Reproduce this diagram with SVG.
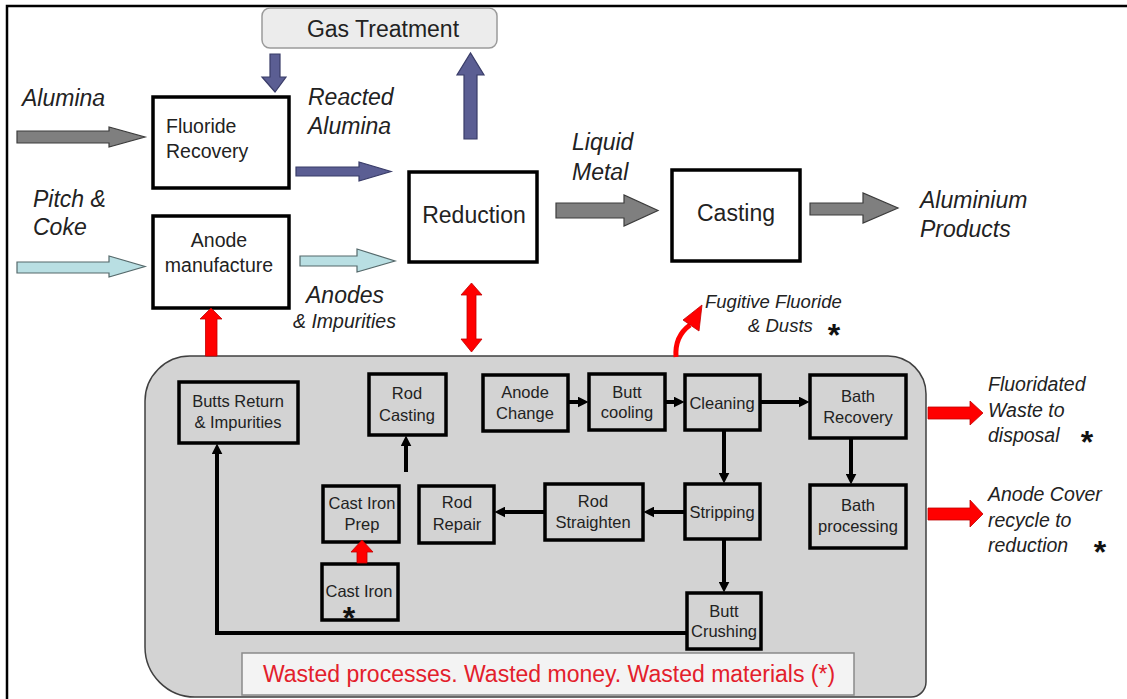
<svg xmlns="http://www.w3.org/2000/svg" width="1127" height="699" viewBox="0 0 1127 699">
<style>
.lbl{font-family:"Liberation Sans",Arial,sans-serif;font-style:italic;fill:#222;}
.big{font-size:23px;}
.mid{font-size:19.5px;}
.sm{font-size:18.5px;}
.bx{font-family:"Liberation Sans",Arial,sans-serif;font-size:19.5px;fill:#222;}
.bx23{font-family:"Liberation Sans",Arial,sans-serif;font-size:23px;fill:#222;text-anchor:middle;}
.ib{font-family:"Liberation Sans",Arial,sans-serif;font-size:16.5px;fill:#222;text-anchor:middle;}
.star{font-family:"Liberation Sans",Arial,sans-serif;font-size:32px;font-weight:bold;fill:#111;text-anchor:middle;}
.top{fill:#fff;stroke:#000;stroke-width:3.5;}
.inner{fill:#d3d3d3;stroke:#000;stroke-width:3.5;}
.gray{fill:#7f7f7f;stroke:#3c3c3c;stroke-width:1.2;}
.blue{fill:#5b5e93;stroke:#393c68;stroke-width:1.2;}
.cyan{fill:#b9dfe3;stroke:#55696b;stroke-width:1.2;}
.red{fill:#ff0000;stroke:#c00000;stroke-width:0.8;}
.con{fill:none;stroke:#000;stroke-width:4;marker-end:url(#ah);}
</style>
<defs>
<marker id="ah" viewBox="0 0 10 10" refX="4" refY="5" markerWidth="11" markerHeight="11" markerUnits="userSpaceOnUse" orient="auto">
<path d="M0,0 L10,5 L0,10 z" fill="#000"/>
</marker>
</defs>
<rect x="0" y="0" width="1127" height="699" fill="#fff"/>
<rect x="7" y="6" width="1140" height="720" fill="#fff" stroke="#000" stroke-width="2.5"/>

<g id="waste-area">
<path d="M190,356 H888 A38,38 0 0 1 926,394 V682 A15,15 0 0 1 911,697 H195 A50,50 0 0 1 145,647 V401 A45,45 0 0 1 190,356 Z" fill="#d3d3d3" stroke="#404040" stroke-width="1.5"/>
</g>

<g id="gas-treatment">
<rect x="262" y="8" width="235" height="40" rx="8" fill="#ececec" stroke="#9a9a9a" stroke-width="1.5"/>
<text x="383" y="37" class="bx23">Gas Treatment</text>
</g>

<g id="fluoride-recovery">
<rect x="153" y="97" width="136" height="91" class="top"/>
<text x="166" y="133" class="bx">Fluoride</text>
<text x="166" y="158" class="bx">Recovery</text>
</g>

<g id="anode-manufacture">
<rect x="153" y="216" width="136" height="92" class="top"/>
<text x="219" y="247" class="bx" text-anchor="middle">Anode</text>
<text x="219" y="272" class="bx" text-anchor="middle">manufacture</text>
</g>

<g id="reduction">
<rect x="409" y="172" width="128" height="90" class="top"/>
<text x="474" y="223" class="bx23">Reduction</text>
</g>

<g id="casting">
<rect x="672" y="170" width="128" height="91" class="top"/>
<text x="736" y="221" class="bx23">Casting</text>
</g>

<g id="labels">
<text x="22" y="106" class="lbl big">Alumina</text>
<text x="33" y="207" class="lbl big">Pitch &amp;</text>
<text x="33" y="235" class="lbl big">Coke</text>
<text x="308" y="105" class="lbl big">Reacted</text>
<text x="308" y="134" class="lbl big">Alumina</text>
<text x="306" y="303" class="lbl big">Anodes</text>
<text x="293" y="328" class="lbl mid">&amp; Impurities</text>
<text x="572" y="150" class="lbl big">Liquid</text>
<text x="572" y="180" class="lbl big">Metal</text>
<text x="920" y="208" class="lbl big">Aluminium</text>
<text x="920" y="237" class="lbl big">Products</text>
<text x="705" y="308" class="lbl sm">Fugitive Fluoride</text>
<text x="748" y="332" class="lbl sm">&amp; Dusts</text>
<text x="834" y="346" class="star">*</text>
<text x="988" y="391" class="lbl mid">Fluoridated</text>
<text x="988" y="417" class="lbl mid">Waste to</text>
<text x="988" y="442" class="lbl mid">disposal</text>
<text x="1087" y="453" class="star">*</text>
<text x="988" y="501" class="lbl mid">Anode Cover</text>
<text x="988" y="527" class="lbl mid">recycle to</text>
<text x="988" y="552" class="lbl mid">reduction</text>
<text x="1100" y="563" class="star">*</text>
</g>

<g id="butts-return">
<rect x="179" y="382" width="119" height="61" class="inner"/>
<text x="238" y="407" class="ib">Butts Return</text>
<text x="238" y="428" class="ib">&amp; Impurities</text>
</g>
<g id="rod-casting">
<rect x="369" y="374" width="77" height="61" class="inner"/>
<text x="407" y="399" class="ib">Rod</text>
<text x="407" y="421" class="ib">Casting</text>
</g>
<g id="anode-change">
<rect x="483" y="375" width="85" height="56" class="inner"/>
<text x="525" y="398" class="ib">Anode</text>
<text x="525" y="419" class="ib">Change</text>
</g>
<g id="butt-cooling">
<rect x="589" y="374" width="76" height="56" class="inner"/>
<text x="627" y="398" class="ib">Butt</text>
<text x="627" y="418" class="ib">cooling</text>
</g>
<g id="cleaning">
<rect x="685" y="375" width="75" height="55" class="inner"/>
<text x="722" y="409" class="ib">Cleaning</text>
</g>
<g id="bath-recovery">
<rect x="810" y="375" width="96" height="63" class="inner"/>
<text x="858" y="402" class="ib">Bath</text>
<text x="858" y="423" class="ib">Recovery</text>
</g>
<g id="stripping">
<rect x="685" y="484" width="75" height="55" class="inner"/>
<text x="722" y="518" class="ib">Stripping</text>
</g>
<g id="bath-processing">
<rect x="810" y="485" width="96" height="63" class="inner"/>
<text x="858" y="511" class="ib">Bath</text>
<text x="858" y="532" class="ib">processing</text>
</g>
<g id="rod-straighten">
<rect x="545" y="484" width="98" height="56" class="inner"/>
<text x="593" y="507" class="ib">Rod</text>
<text x="593" y="528" class="ib">Straighten</text>
</g>
<g id="rod-repair">
<rect x="419" y="486" width="75" height="57" class="inner"/>
<text x="457" y="508" class="ib">Rod</text>
<text x="457" y="530" class="ib">Repair</text>
</g>
<g id="cast-iron-prep">
<rect x="323" y="486" width="76" height="56" class="inner"/>
<text x="362" y="509" class="ib">Cast Iron</text>
<text x="362" y="530" class="ib">Prep</text>
</g>
<g id="cast-iron">
<rect x="322" y="564" width="76" height="56" class="inner"/>
<text x="359" y="597" class="ib">Cast Iron</text>
<text x="349" y="629" class="star" font-size="28">*</text>
</g>
<g id="butt-crushing">
<rect x="687" y="593" width="74" height="56" class="inner"/>
<text x="724" y="617" class="ib">Butt</text>
<text x="724" y="637" class="ib">Crushing</text>
</g>

<g id="message">
<rect x="242" y="653" width="612" height="42" fill="#f3f3f3" stroke="#8a8a8a" stroke-width="1.5"/>
<text x="549" y="682" font-family="'Liberation Sans',Arial,sans-serif" font-size="23" fill="#e3202b" text-anchor="middle">Wasted processes. Wasted money. Wasted materials (*)</text>
</g>

<g id="connectors">
<polygon class="gray" points="17,131 109,131 109,127 145,137 109,147 109,143 17,143"/>
<polygon class="cyan" points="17,262 109,262 109,256 145,266.5 109,277 109,273 17,273"/>
<polygon class="blue" points="296,167 359,167 359,162 391,171.5 359,181 359,176 296,176"/>
<polygon class="cyan" points="300,256 357,256 357,249 395,261 357,272 357,266 300,266"/>
<polygon class="blue" points="270,54 280,54 280,77 286,77 275,92 262,77 270,77"/>
<polygon class="blue" points="464,139 477,139 477,75 484,75 470.5,53 457,75 464,75"/>
<polygon class="gray" points="556,203 624,203 624,195 658,210.5 624,226 624,218 556,218"/>
<polygon class="gray" points="810,203 863,203 863,193 898,208 863,223 863,215 810,215"/>
<polygon class="red" points="471.5,283 482,295 476,295 476,339 482,339 471.5,352 461,339 467,339 467,295 461,295"/>
<polygon class="red" points="205.5,356 217,356 217,319 222,319 211,308 200,319 205.5,319"/>
<polygon class="red" points="928,407 970,407 970,401 983,413 970,425 970,419 928,419"/>
<polygon class="red" points="928,508 970,508 970,500 983,514 970,527 970,520 928,520"/>
<polygon class="red" points="357,563 367,563 367,552 373,552 362,540 351,552 357,552"/>
<path d="M676,357 C675,343 679,333 690,325" fill="none" stroke="#ff0000" stroke-width="5"/>
<polygon class="red" points="683,320 702,305 699,331"/>
<line x1="568" y1="402" x2="582" y2="402" class="con"/>
<line x1="665" y1="402" x2="678" y2="402" class="con"/>
<line x1="760" y1="402" x2="803" y2="402" class="con"/>
<line x1="724" y1="430" x2="724" y2="477" class="con"/>
<line x1="851" y1="438" x2="851" y2="478" class="con"/>
<line x1="685" y1="512" x2="650" y2="512" class="con"/>
<line x1="545" y1="512" x2="501" y2="512" class="con"/>
<line x1="724" y1="539" x2="724" y2="586" class="con"/>
<line x1="406" y1="472" x2="406" y2="442" class="con"/>
<polyline points="687,633 217,633 217,450" class="con"/>
</g>
</svg>
